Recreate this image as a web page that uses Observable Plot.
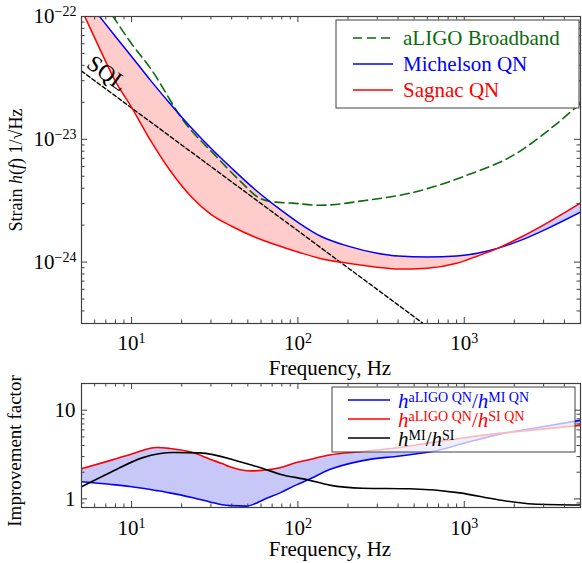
<!DOCTYPE html>
<html><head><meta charset="utf-8">
<script src="https://cdn.jsdelivr.net/npm/d3@7"></script>
<script src="https://cdn.jsdelivr.net/npm/@observablehq/plot@0.6"></script>
<style>
body{margin:0;background:#fff;}
#chart{width:582px;height:563px;position:relative;overflow:hidden;}
#chart svg{display:block;}
</style></head><body><div id="chart"></div>
<script>
// ---------- DATA ----------
// Top panel: strain noise spectra (1/sqrt(Hz)) vs frequency (Hz)
const freqTop = [5, 6.5, 8, 10, 13, 17, 23, 30, 40, 55, 75, 100, 140, 200, 300, 400, 600, 900, 1200, 1600, 2200, 3200, 5000];
const sagnacQN = [1.14e-22, 5.3e-23, 2.96e-23, 1.82e-23, 9.8e-24, 5.6e-24, 3.38e-24, 2.45e-24, 1.96e-24, 1.6e-24, 1.37e-24, 1.21e-24, 1.06e-24, 9.8e-25, 9.1e-25, 8.77e-25, 8.93e-25, 9.8e-25, 1.12e-24, 1.3e-24, 1.6e-24, 2.11e-24, 3.02e-24];
const michelsonQN = [1.54e-22, 9.8e-23, 6.87e-23, 4.73e-23, 3.02e-23, 1.96e-23, 1.23e-23, 8.45e-24, 5.81e-24, 3.92e-24, 2.8e-24, 2.11e-24, 1.6e-24, 1.35e-24, 1.18e-24, 1.12e-24, 1.1e-24, 1.12e-24, 1.18e-24, 1.3e-24, 1.51e-24, 1.89e-24, 2.55e-24];
const aligoFreq = [5, 7.74, 10, 13, 20.4, 32.6, 45, 59, 73, 93, 135, 260, 470, 1035, 2065, 3200, 5000];
const aligoBroadband = [2.45e-22, 1e-22, 6.0e-23, 3.78e-23, 1.43e-23, 7.15e-24, 4.56e-24, 3.31e-24, 3.08e-24, 3.02e-24, 2.9e-24, 3.19e-24, 3.64e-24, 5.09e-24, 7.69e-24, 1.18e-23, 1.96e-23];
const sqlFreq = [5, 100, 560];
const sqlStrain = [3.6e-23, 1.8e-24, 3.2e-25];
const sqlLabelAt = {f: 7.13, h: 3.44e-23, text: "SQL"};

// Bottom panel: improvement factors
const freqBottom = [5, 7.4, 9.8, 14.2, 17, 23.4, 29.6, 35, 39, 49.4, 55, 61.6, 78, 98, 115, 155, 245, 410, 640, 1035, 1620, 2840, 5000];
const ratioMI = [1.56, 1.46, 1.38, 1.24, 1.17, 1.03, 0.925, 0.86, 0.84, 0.83, 0.88, 0.974, 1.17, 1.44, 1.64, 2.14, 2.7, 3.05, 3.42, 4.33, 5.34, 6.41, 7.7];
const ratioSI = [2.19, 2.7, 3.16, 3.8, 3.7, 3.33, 2.8, 2.5, 2.3, 2.08, 2.07, 2.1, 2.25, 2.57, 2.75, 3.12, 3.42, 3.8, 4.33, 4.93, 5.48, 6.08, 6.76];
const freqMISI = [5, 7.4, 11.7, 17.8, 25.7, 44.8, 61.6, 78, 115, 155, 245, 470, 940, 1620, 2580, 5000];
const ratioMISI = [1.37, 1.97, 2.92, 3.33, 3.3, 2.63, 2.2, 1.9, 1.64, 1.43, 1.32, 1.3, 1.17, 0.974, 0.877, 0.855];

// Ticks and tick labels
const xMajor = [10, 100, 1000];
const xMajorLabels = ["10^1", "10^2", "10^3"];
const xMinor = [6, 7, 8, 9, 20, 30, 40, 50, 60, 70, 80, 90, 200, 300, 400, 500, 600, 700, 800, 900, 2000, 3000, 4000];
const yMajorTop = [1e-24, 1e-23, 1e-22];
const yMajorTopLabels = ["10^\u221224", "10^\u221223", "10^\u221222"];
const yMinorTop = [4e-25, 5e-25, 6e-25, 7e-25, 8e-25, 9e-25, 2e-24, 3e-24, 4e-24, 5e-24, 6e-24, 7e-24, 8e-24, 9e-24, 2e-23, 3e-23, 4e-23, 5e-23, 6e-23, 7e-23, 8e-23, 9e-23];
const yMajorBottom = [1, 10];
const yMajorBottomLabels = ["1", "10"];
const yMinorBottom = [0.9, 2, 3, 4, 5, 6, 7, 8, 9, 20];

const legendTop = [
  {label: "aLIGO Broadband", color: "#0b6b0b", dash: "9,5"},
  {label: "Michelson QN", color: "#0000ff", dash: null},
  {label: "Sagnac QN", color: "#ff0000", dash: null}
];
const legendBottom = [
  {parts: [["h","i"],["aLIGO QN","s"],["/","n"],["h","i"],["MI QN","s"]], color: "#0000ff"},
  {parts: [["h","i"],["aLIGO QN","s"],["/","n"],["h","i"],["SI QN","s"]], color: "#ff0000"},
  {parts: [["h","i"],["MI","s"],["/","n"],["h","i"],["SI","s"]], color: "#000000"}
];

// ---------- STYLE ----------
const FONT = "'Liberation Serif','Times New Roman',serif";
const FC = "#404040";
const W = 582;

const topRows = freqTop.map((f, i) => ({f, s: sagnacQN[i], m: michelsonQN[i]}));
const aligoRows = aligoFreq.map((f, i) => ({f, h: aligoBroadband[i]}));
const sqlRows = sqlFreq.map((f, i) => ({f, h: sqlStrain[i]}));
const botRows = freqBottom.map((f, i) => ({f, mi: ratioMI[i], si: ratioSI[i]}));
const misiRows = freqMISI.map((f, i) => ({f, r: ratioMISI[i]}));

function tickMarks(H, IW, yMaj, yMin) {
  const s = {stroke: FC, strokeWidth: 1};
  return [
    Plot.ruleX(xMajor, {x: d => d, insetTop: H - 6, ...s}),
    Plot.ruleX(xMajor, {x: d => d, insetBottom: H - 6, ...s}),
    Plot.ruleX(xMinor, {x: d => d, insetTop: H - 3.5, ...s}),
    Plot.ruleX(xMinor, {x: d => d, insetBottom: H - 3.5, ...s}),
    Plot.ruleY(yMaj, {y: d => d, insetRight: IW - 6, ...s}),
    Plot.ruleY(yMaj, {y: d => d, insetLeft: IW - 6, ...s}),
    Plot.ruleY(yMin, {y: d => d, insetRight: IW - 3.5, ...s}),
    Plot.ruleY(yMin, {y: d => d, insetLeft: IW - 3.5, ...s})
  ];
}

function supify(svg) {
  d3.select(svg).selectAll("text").each(function () {
    const s = this.textContent;
    if (!s.includes("^")) return;
    const [base, exp] = s.split("^");
    this.textContent = "";
    const t = d3.select(this);
    t.append("tspan").text(base);
    t.append("tspan").attr("dy", -7).attr("font-size", 14).text(exp);
  });
}

function richText(sel, parts, size, supSize, raise) {
  let up = false;
  parts.forEach(([txt, kind]) => {
    const ts = sel.append("tspan").text(txt);
    if (kind === "s") {
      ts.attr("font-size", supSize).attr("font-style", "normal");
      if (!up) { ts.attr("dy", -raise); up = true; }
    } else {
      ts.attr("font-size", size).attr("font-style", kind === "i" ? "italic" : "normal");
      if (up) { ts.attr("dy", raise); up = false; }
    }
  });
}

// ---------- TOP PANEL ----------
const H1 = 378, mT1 = 16, mB1 = 55, mL = 81, mR = 2;
const ih1 = H1 - mT1 - mB1, iw = W - mL - mR;
const topChart = Plot.plot({
  width: W, height: H1, marginTop: mT1, marginBottom: mB1, marginLeft: mL, marginRight: mR,
  style: {fontFamily: FONT, fontSize: "21px", background: "white", color: "black", overflow: "visible"},
  x: {type: "log", domain: [5, 5000]},
  y: {type: "log", domain: [Math.pow(10, -24.5), 1e-22]},
  marks: [
    Plot.areaY(topRows.filter(d => d.f <= 1600), {x: "f", y1: "s", y2: "m", fill: "#ffcccc", curve: "monotone-x", clip: true}),
    Plot.areaY(topRows.filter(d => d.f >= 1600), {x: "f", y1: "s", y2: "m", fill: "#ccccff", curve: "monotone-x", clip: true}),
    Plot.line(aligoRows, {x: "f", y: "h", stroke: "#0b6b0b", strokeWidth: 1.6, strokeDasharray: "9,5", curve: "monotone-x", clip: true}),
    Plot.line(sqlRows, {x: "f", y: "h", stroke: "black", strokeWidth: 1.4, strokeDasharray: "4,2.5", clip: true}),
    Plot.line(topRows, {x: "f", y: "m", stroke: "#0000ff", strokeWidth: 1.5, curve: "monotone-x", clip: true}),
    Plot.line(topRows, {x: "f", y: "s", stroke: "#ff0000", strokeWidth: 1.5, curve: "monotone-x", clip: true}),
    Plot.text([sqlLabelAt], {x: "f", y: "h", text: "text", rotate: 36, fontSize: 23, fill: "black"}),
    Plot.frame({stroke: FC, strokeWidth: 1.2}),
    ...tickMarks(ih1, iw, yMajorTop, yMinorTop),
    Plot.axisX({ticks: xMajor, tickSize: 0, tickPadding: 12, tickFormat: d => xMajorLabels[xMajor.indexOf(d)], label: null}),
    Plot.axisY({ticks: yMajorTop, tickSize: 0, tickPadding: 5, tickFormat: d => yMajorTopLabels[yMajorTop.indexOf(d)], label: null})
  ]
});
supify(topChart);
{
  const g = d3.select(topChart).append("g").attr("font-family", FONT).attr("text-anchor", "start");
  g.append("rect").attr("x", 336).attr("y", 20).attr("width", 243).attr("height", 88)
    .attr("fill", "white").attr("stroke", FC).attr("stroke-width", 1);
  legendTop.forEach((d, i) => {
    const yy = 38 + i * 26;
    g.append("line").attr("x1", 353).attr("x2", 393).attr("y1", yy).attr("y2", yy)
      .attr("stroke", d.color).attr("stroke-width", 1.6).attr("stroke-dasharray", d.dash);
    g.append("text").attr("x", 403).attr("y", yy + 7).attr("text-anchor", "start")
      .attr("font-size", 21).attr("fill", d.color).text(d.label);
  });
  const yl = g.append("text").attr("transform", "translate(22,170) rotate(-90)")
    .attr("text-anchor", "middle").attr("font-size", 18).attr("fill", "black");
  richText(yl, [["Strain ","n"],["h","i"],["(","n"],["f","i"],[") 1/\u221AHz","n"]], 18, 14, 0);
  g.append("text").attr("x", 330).attr("y", 375).attr("text-anchor", "middle")
    .attr("font-size", 21).attr("fill", "black").text("Frequency, Hz");
}

// ---------- BOTTOM PANEL ----------
const H2 = 185, mT2 = 5, mB2 = 56;
const ih2 = H2 - mT2 - mB2;
const botChart = Plot.plot({
  width: W, height: H2, marginTop: mT2, marginBottom: mB2, marginLeft: mL, marginRight: mR,
  style: {fontFamily: FONT, fontSize: "21px", background: "white", color: "black", overflow: "visible"},
  x: {type: "log", domain: [5, 5000]},
  y: {type: "log", domain: [0.8, 20]},
  marks: [
    Plot.areaY(botRows, {x: "f", y1: "mi", y2: "si", fill: "#c8c8f8", curve: "monotone-x", clip: true}),
    Plot.line(botRows, {x: "f", y: "mi", stroke: "#0000ff", strokeWidth: 1.6, curve: "monotone-x", clip: true}),
    Plot.line(botRows, {x: "f", y: "si", stroke: "#ff0000", strokeWidth: 1.6, curve: "monotone-x", clip: true}),
    Plot.line(misiRows, {x: "f", y: "r", stroke: "black", strokeWidth: 1.6, curve: "monotone-x", clip: true}),
    Plot.frame({stroke: FC, strokeWidth: 1.2}),
    ...tickMarks(ih2, iw, yMajorBottom, yMinorBottom),
    Plot.axisX({ticks: xMajor, tickSize: 0, tickPadding: 12.5, tickFormat: d => xMajorLabels[xMajor.indexOf(d)], label: null}),
    Plot.axisY({ticks: yMajorBottom, tickSize: 0, tickPadding: 6, tickFormat: d => yMajorBottomLabels[yMajorBottom.indexOf(d)], label: null})
  ]
});
supify(botChart);
{
  const g = d3.select(botChart).append("g").attr("font-family", FONT).attr("text-anchor", "start");
  g.append("rect").attr("x", 332).attr("y", 9).attr("width", 243).attr("height", 65)
    .attr("fill", "white").attr("fill-opacity", 0.72).attr("stroke", FC).attr("stroke-width", 1);
  legendBottom.forEach((d, i) => {
    const yy = 22 + i * 19;
    g.append("line").attr("x1", 348).attr("x2", 390).attr("y1", yy).attr("y2", yy)
      .attr("stroke", d.color).attr("stroke-width", 1.6);
    const t = g.append("text").attr("x", 398).attr("y", yy + 8).attr("text-anchor", "start").attr("fill", d.color);
    richText(t, d.parts, 21, 14, 6);
  });
  g.append("text").attr("transform", "translate(21,73) rotate(-90)")
    .attr("text-anchor", "middle").attr("font-size", 19).attr("fill", "black").text("Improvement factor");
  g.append("text").attr("x", 330).attr("y", 178).attr("text-anchor", "middle")
    .attr("font-size", 21).attr("fill", "black").text("Frequency, Hz");
}

document.getElementById("chart").append(topChart, botChart);
</script>
</body></html>
